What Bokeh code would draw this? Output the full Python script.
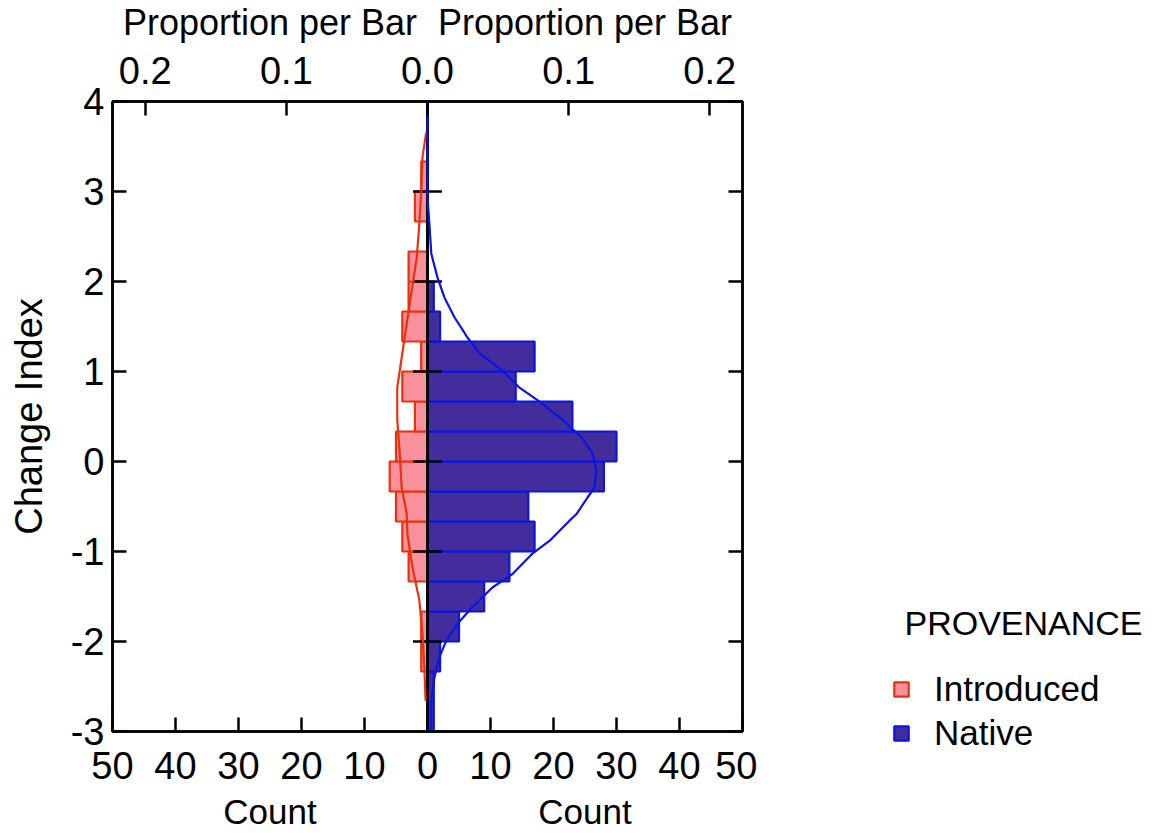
from bokeh.plotting import figure
from bokeh.layouts import column, row
from bokeh.models import (Range1d, LinearAxis, FixedTicker, Legend, LegendItem,
                          ColumnDataSource, CustomJSTickFormatter)
from bokeh.core.properties import value
from bokeh.embed import file_html
from bokeh.resources import INLINE

# ---------------- data ----------------
bin_start = -3.0
bin_width = 1.0 / 3.0
# counts per bin, from the lowest bin (-3 .. -2.667) upwards to (3.667 .. 4)
count_native = [1, 1, 2, 5, 9, 13, 17, 16, 28, 30, 23, 14, 17, 2, 1, 0, 0, 0, 0, 0, 0]
count_introduced = [0, 0, 1, 1, 0, 3, 4, 5, 6, 5, 2, 4, 1, 4, 3, 3, 0, 2, 1, 0, 0]

# smoothed density curves (in count units)
native_curve_y = [4.0, 2.93, 2.64, 2.31, 2.04, 1.82, 1.6, 1.46, 1.38, 1.2, 1.01, 0.82, 0.64,
                  0.46, 0.27, 0.09, -0.1, -0.29, -0.4, -0.58, -0.66, -0.88, -1.02, -1.25,
                  -1.4, -1.62, -1.8, -1.99, -2.17, -2.4, -2.66, -3.0]
native_curve_count = [0.0, 0.0, 0.3, 0.6, 1.6, 2.7, 4.3, 5.6, 6.3, 8.3, 11.9, 14.6, 18.3,
                      21.5, 24.4, 26.2, 26.8, 26.5, 25.4, 23.7, 22.5, 19.4, 16.7, 13.5,
                      10.3, 7.1, 4.8, 3.0, 1.9, 1.1, 0.6, 0.5]
intro_curve_y = [3.66, 3.38, 3.0, 2.64, 2.27, 1.9, 1.53, 1.2, 0.82, 0.46, 0.09, -0.29,
                 -0.58, -0.8, -1.17, -1.54, -1.91, -2.29, -2.66]
intro_curve_count = [0.2, 0.8, 1.0, 1.3, 1.7, 2.5, 3.3, 4.0, 4.8, 4.8, 4.4, 4.1,
                     3.3, 3.2, 2.4, 1.3, 0.8, 0.5, 0.3]

groups = ["Introduced", "Native"]
legend_title = "PROVENANCE"
y_ticks = [-3, -2, -1, 0, 1, 2, 3, 4]
count_ticks = [-50, -40, -30, -20, -10, 0, 10, 20, 30, 40, 50]
prop_ticks = [-0.2, -0.1, 0.0, 0.1, 0.2]
top_titles = ["Proportion per Bar", "Proportion per Bar"]
bottom_titles = ["Count", "Count"]
title_centres = [-25, 25]     # centre of each half, in count units

FONT = "Liberation Sans"
RED_FILL = "#f8919b"
RED_LINE = "#e8320f"
BLUE_FILL = "#432d9c"
BLUE_LINE = "#0a14e6"

n_total = sum(count_native) + sum(count_introduced)
xmax = 50

# layout geometry (pixels)
TOTAL_W, TOTAL_H = 1147, 830
MAIN_W = 757
BL = 112
BR = MAIN_W - BL - 630
TOP_H = 43
MAIN_TOP, FRAME_H, MAIN_BOTTOM = 58, 630, 61
MAIN_H = MAIN_TOP + FRAME_H + MAIN_BOTTOM
BOT_H = TOTAL_H - TOP_H - MAIN_H
LEG_W = TOTAL_W - MAIN_W

x_range = Range1d(-xmax, xmax)

# ---------------- main figure ----------------
p = figure(width=MAIN_W, height=MAIN_H, x_range=x_range, y_range=Range1d(-3, 4),
           output_backend="svg", toolbar_location=None,
           min_border_left=BL, min_border_right=BR,
           min_border_top=MAIN_TOP, min_border_bottom=MAIN_BOTTOM)
p.grid.visible = False
p.outline_line_color = "black"
p.outline_line_width = 2.5


def style_axis(ax, size="38px"):
    ax.major_tick_in = 14
    ax.major_tick_out = 0
    ax.minor_tick_line_color = None
    ax.axis_line_width = 2.5
    ax.axis_line_color = "black"
    ax.major_tick_line_width = 2.5
    ax.major_tick_line_color = "black"
    ax.major_label_text_font = FONT
    ax.major_label_text_font_size = size
    ax.major_label_text_color = "black"
    ax.axis_label_text_font = FONT
    ax.axis_label_text_font_style = "normal"
    ax.axis_label_text_color = "black"


xa = p.xaxis[0]
xa.ticker = FixedTicker(ticks=count_ticks)
xa.formatter = CustomJSTickFormatter(code="return Math.abs(tick).toFixed(0);")
style_axis(xa)
xa.major_label_standoff = 20

ya = p.yaxis[0]
ya.ticker = FixedTicker(ticks=y_ticks)
ya.formatter = CustomJSTickFormatter(code="return tick.toFixed(0);")
style_axis(ya)
ya.axis_label = "Change Index"
ya.axis_label_text_font_size = "38px"
ya.major_label_standoff = 8
ya.axis_label_standoff = 18

ra = LinearAxis(ticker=FixedTicker(ticks=y_ticks),
                formatter=CustomJSTickFormatter(code="return '';"))
style_axis(ra)
ra.major_label_standoff = 0
p.add_layout(ra, "right")

p.extra_x_ranges = {"prop": Range1d(-xmax / n_total, xmax / n_total)}
ta = LinearAxis(x_range_name="prop", ticker=FixedTicker(ticks=prop_ticks),
                formatter=CustomJSTickFormatter(code="return Math.abs(tick).toFixed(1);"))
style_axis(ta)
ta.major_label_standoff = 18
p.add_layout(ta, "above")

# bars
lo = [bin_start + i * bin_width for i in range(len(count_native))]
keep_i = [k for k, c in enumerate(count_introduced) if c > 0]
keep_n = [k for k, c in enumerate(count_native) if c > 0]
src_i = ColumnDataSource(dict(left=[-count_introduced[k] for k in keep_i],
                              right=[0] * len(keep_i),
                              bottom=[lo[k] for k in keep_i],
                              top=[lo[k] + bin_width for k in keep_i]))
src_n = ColumnDataSource(dict(left=[0] * len(keep_n),
                              right=[count_native[k] for k in keep_n],
                              bottom=[lo[k] for k in keep_n],
                              top=[lo[k] + bin_width for k in keep_n]))

bar_i = dict(fill_color=RED_FILL, line_color=RED_LINE, line_width=2.2)
bar_n = dict(fill_color=BLUE_FILL, line_color=BLUE_LINE, line_width=2.2)
p.quad(left="left", right="right", bottom="bottom", top="top", source=src_i, **bar_i)
p.quad(left="left", right="right", bottom="bottom", top="top", source=src_n, **bar_n)

# zero line and centre ticks
p.vspan(x=[0], line_color="black", line_width=3)
inner = [t for t in y_ticks if -3 < t < 4]
p.segment(x0=[-2.3] * len(inner), x1=[2.3] * len(inner), y0=inner, y1=inner,
          line_color="black", line_width=2.5)

# density curves
p.line(x=[-c for c in intro_curve_count], y=intro_curve_y, line_color=RED_LINE, line_width=2.2)
p.line(x=native_curve_count, y=native_curve_y, line_color=BLUE_LINE, line_width=2.2)


# ---------------- title strips (share the x scale of the main plot) ----------------
def strip(height, titles, size, ycentre):
    s = figure(width=MAIN_W, height=height, x_range=x_range, y_range=Range1d(0, height),
               output_backend="svg", toolbar_location=None,
               x_axis_location=None, y_axis_location=None,
               min_border_left=BL, min_border_right=BR, min_border_top=0, min_border_bottom=0)
    s.grid.visible = False
    s.outline_line_color = None
    s.text(x=title_centres, y=[ycentre] * len(titles), text=titles,
           text_font=value(FONT), text_font_size=size, text_align="center",
           text_baseline="middle", text_color="black")
    return s


top = strip(TOP_H, top_titles, "36px", TOP_H - 22)
bottom = strip(BOT_H, bottom_titles, "35px", TOTAL_H - 811)

# ---------------- legend panel ----------------
lg = figure(width=LEG_W, height=TOTAL_H, x_range=Range1d(0, LEG_W), y_range=Range1d(0, TOTAL_H),
            output_backend="svg", toolbar_location=None,
            x_axis_location=None, y_axis_location=None,
            min_border_left=0, min_border_right=0, min_border_top=0, min_border_bottom=0)
lg.grid.visible = False
lg.outline_line_color = None
# swatch renderers: same data and styles as the bars, mapped onto a range far away
# from this panel so that only their legend swatches show
lg.extra_x_ranges = {"away": Range1d(10000, 10001)}
sw_i = lg.quad(left="left", right="right", bottom="bottom", top="top", source=src_i,
               x_range_name="away", **bar_i)
sw_n = lg.quad(left="left", right="right", bottom="bottom", top="top", source=src_n,
               x_range_name="away", **bar_n)
lg.text(x=[147], y=[TOTAL_H - 622], text=[legend_title], text_font=value(FONT),
        text_font_size="34px", text_align="left", text_baseline="middle", text_color="black")

legend = Legend(items=[LegendItem(label=groups[0], renderers=[sw_i]),
                       LegendItem(label=groups[1], renderers=[sw_n])],
                location=(135, TOTAL_H - 753), orientation="vertical")
legend.label_text_font = FONT
legend.label_text_font_size = "35px"
legend.label_text_color = "black"
legend.glyph_width = 18
legend.glyph_height = 18
legend.label_height = 40
legend.label_standoff = 24
legend.spacing = 4
legend.padding = 0
legend.margin = 0
legend.border_line_color = None
legend.background_fill_alpha = 0
lg.add_layout(legend, "center")

layout = row(column(top, p, bottom, spacing=0), lg, spacing=0)
open("out.html", "w").write(file_html(layout, INLINE))
